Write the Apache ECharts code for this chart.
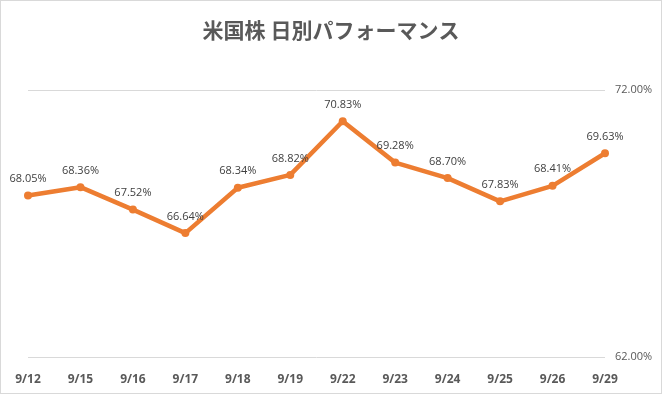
<!DOCTYPE html>
<html><head><meta charset="utf-8">
<script src="https://cdn.jsdelivr.net/npm/echarts@6/dist/echarts.min.js"></script>
<style>html,body{margin:0;padding:0;background:#fff}#c{width:662px;height:394px;box-sizing:border-box;border:1px solid #d9d9d9}</style>
</head><body><div id="c"></div>
<script>
const categories = ['9/12','9/15','9/16','9/17','9/18','9/19','9/22','9/23','9/24','9/25','9/26','9/29'];
const values = [68.05,68.36,67.52,66.64,68.34,68.82,70.83,69.28,68.70,67.83,68.41,69.63];
const yMin = 62, yMax = 72;
const chart = echarts.init(document.getElementById('c'));
chart.setOption({
  animation:false,
  title:{text:'米国株 日別パフォーマンス',left:'center',top:14,textStyle:{fontFamily:'Noto Sans CJK JP',fontSize:21,fontWeight:'bold',color:'#595959'}},
  grid:{left:27,right:56,top:89,bottom:36},
  xAxis:{type:'category',data:categories,boundaryGap:false,axisLine:{show:false},axisTick:{show:false},
    axisLabel:{color:'#595959',fontWeight:'bold',fontSize:12,fontFamily:'Open Sans',margin:17}},
  yAxis:{type:'value',position:'right',min:yMin,max:yMax,interval:10,
    splitLine:{lineStyle:{color:'#d9d9d9'}},axisLine:{show:false},axisTick:{show:false},
    axisLabel:{color:'#595959',fontSize:11,fontFamily:'Open Sans',margin:10,formatter:v=>v.toFixed(2)+'%'}},
  series:[{type:'line',data:values,symbol:'circle',symbolSize:8,
    lineStyle:{color:'#ED7D31',width:4.5},itemStyle:{color:'#ED7D31'},
    label:{show:true,position:'top',distance:7,color:'#404040',fontSize:11,fontFamily:'Open Sans',formatter:p=>p.value.toFixed(2)+'%'}}]
});
</script></body></html>
